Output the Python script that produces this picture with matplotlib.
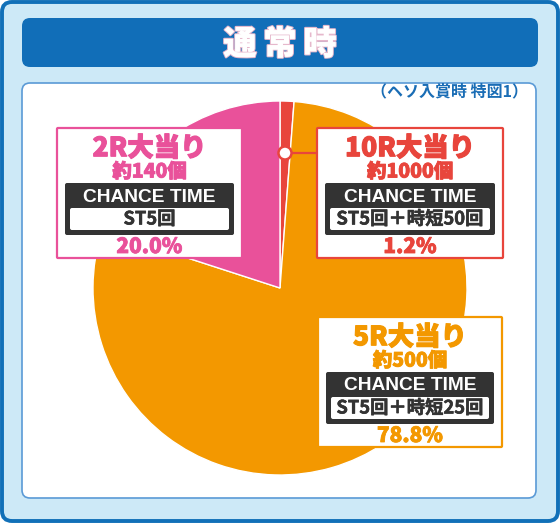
import matplotlib
matplotlib.use("Agg")
import matplotlib.pyplot as plt
from matplotlib.patches import FancyBboxPatch, Circle
import matplotlib.patheffects as pe

# ---- data ----
categories = ["10R大当り", "5R大当り", "2R大当り"]
shares = [1.2, 78.8, 20.0]
balls = ["約1000個", "約500個", "約140個"]
chance_detail = ["ST5回＋時短50回", "ST5回＋時短25回", "ST5回"]
pct_labels = ["1.2%", "78.8%", "20.0%"]
colors = ["#E8453C", "#F39800", "#E9519A"]
title = "通常時"
subtitle = "（ヘソ入賞時 特図1）"
chance_title = "CHANCE TIME"

JP = ["Noto Sans CJK JP", "DejaVu Sans"]
W, H = 560, 523

fig = plt.figure(figsize=(W / 100, H / 100), dpi=100)
fig.patch.set_facecolor("white")
ax = fig.add_axes([0, 0, 1, 1])

def rbox(x0, y0, x1, y1, r, fc, ec="none", lw=0, z=1):
    p = FancyBboxPatch((x0, y0), x1 - x0, y1 - y0,
                       boxstyle=f"round,pad=0,rounding_size={r}",
                       fc=fc, ec=ec, lw=lw, zorder=z)
    ax.add_patch(p)
    return p

def bold_fx(col, w=0.6):
    return [pe.withStroke(linewidth=w, foreground=col)]

# outer frame
rbox(2, 2, 558, 521, 10, "#CDE9F7", "#1170B8", 2.8, z=0)
# banner
rbox(22, 18, 538, 67, 8, "#116EB8", z=1)
for i, ch in enumerate(title):
    ax.text(240 + i * 40, 44, ch, fontsize=24, fontweight="heavy", family=JP,
            color="white", ha="center", va="center", zorder=3,
            path_effects=[pe.withStroke(linewidth=1.6, foreground="#E6B8CC"),
                          pe.Normal()])
# panel
rbox(22, 83, 536, 498, 8, "white", "#5A9AD6", 1.2, z=1)
ax.text(528, 91, subtitle, fontsize=11.5, fontweight="bold", family=JP,
        color="#1A6DB5", ha="right", va="center", zorder=3)

# pie (y axis is inverted: counterclock in data == clockwise on screen)
cx, cy, R = 280, 288, 187
ax.pie(shares, colors=colors, startangle=270, counterclock=True,
       center=(cx, cy), radius=R, frame=True,
       wedgeprops=dict(edgecolor="white", linewidth=1.0, zorder=2))

# label boxes
boxes = [(317, 128, 503, 258), (318, 317, 502, 447), (57, 128, 242, 258)]
for cat, bl, det, pc, col, (x0, y0, x1, y1) in zip(
        categories, balls, chance_detail, pct_labels, colors, boxes):
    mx = (x0 + x1) / 2
    rbox(x0, y0, x1, y1, 1, "white", col, 1.6, z=4)
    ax.text(mx, y0 + 20, cat, fontsize=19, fontweight="heavy", family=JP,
            color=col, ha="center", va="center", zorder=6,
            path_effects=bold_fx(col, 0.8))
    ax.text(mx, y0 + 44, bl, fontsize=14, fontweight="heavy", family=JP,
            color=col, ha="center", va="center", zorder=6,
            path_effects=bold_fx(col, 0.6))
    rbox(x0 + 8, y0 + 55, x1 - 8, y0 + 107, 2, "#333333", z=5)
    ax.text(mx, y0 + 69, chance_title, fontsize=13.8, fontweight="bold",
            family=["Liberation Sans", "DejaVu Sans"], color="white",
            ha="center", va="center", zorder=6)
    rbox(x0 + 13, y0 + 80, x1 - 13, y0 + 102, 2, "white", z=6)
    ax.text(mx, y0 + 91, det, fontsize=13.2, fontweight="bold", family=JP,
            color="#333333", ha="center", va="center", zorder=7,
            path_effects=bold_fx("#333333", 0.4))
    ax.text(mx, y0 + 119, pc, fontsize=15, fontweight="heavy", family=JP,
            color=col, ha="center", va="center", zorder=6,
            path_effects=bold_fx(col, 0.6))

# connector for the small slice
ax.plot([285, 317], [153, 153], color=colors[0], lw=1.6, zorder=5,
        solid_capstyle="butt")
ax.add_patch(Circle((285, 153), 6.5, fc="white", ec=colors[0], lw=1.8, zorder=6))

ax.set_xlim(0, W)
ax.set_ylim(H, 0)
ax.set_aspect("equal")
ax.axis("off")
fig.savefig("out.png", dpi=100, facecolor="white")
